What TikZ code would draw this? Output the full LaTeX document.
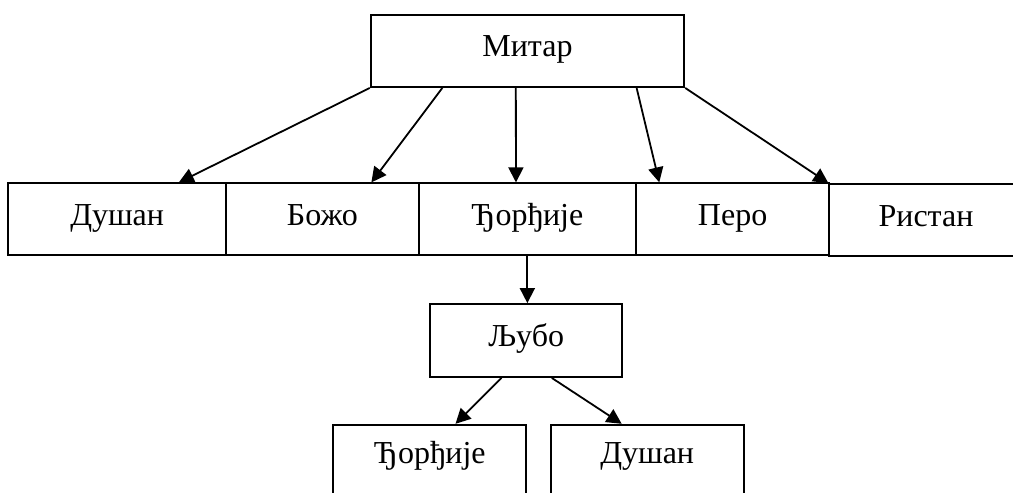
\documentclass[tikz,border=0pt]{standalone}
\usepackage{fontspec}
\setmainfont{Liberation Serif}
\usetikzlibrary{arrows.meta,calc}
\begin{document}
\begin{tikzpicture}[x=1pt,y=-1pt,
  box/.style={draw,line width=1.8pt,rectangle,inner sep=0pt,text height=22pt,text depth=10pt,font=\fontsize{32}{38}\selectfont},
  arr/.style={line width=1.8pt,-{Triangle[length=15pt,width=15pt]}}]
\useasboundingbox (0,0) rectangle (1013,493);
\node[box,minimum width=313.6pt,minimum height=72.3pt] (mitar) at (527.5,50.9) {Митар};
\node[box,minimum width=217.7pt,minimum height=71.7pt] (dushan) at (117.15,219.15) {Душан};
\node[box,minimum width=192.7pt,minimum height=71.7pt] (bozho) at (322.35,219.15) {Божо};
\node[box,minimum width=217.3pt,minimum height=71.7pt] (djordje) at (527.35,219.15) {Ђорђије};
\node[box,minimum width=193.3pt,minimum height=71.7pt] (pero) at (732.65,219.15) {Перо};
\node[box,minimum width=193.4pt,minimum height=72pt] (ristan) at (926,220) {Ристан};
\node[box,minimum width=192.3pt,minimum height=73pt] (ljubo) at (526.15,340.5) {Љубо};
\node[box,text depth=25.4pt,minimum width=193pt,minimum height=80pt] (djordje2) at (429.8,464.7) {Ђорђије};
\node[box,text depth=25.4pt,minimum width=193pt,minimum height=80pt] (dushan2) at (647.2,464.7) {Душан};
\draw[arr] (mitar.south west) -- ($(dushan.north west)!0.781!(dushan.north east)$);
\draw[arr] ($(mitar.south west)!0.23!(mitar.south east)$) -- ($(bozho.north west)!0.752!(bozho.north east)$);
\draw[arr] ($(mitar.south west)!0.463!(mitar.south east)$) -- ($(djordje.north west)!0.448!(djordje.north east)$);
\draw[arr] ($(mitar.south west)!0.846!(mitar.south east)$) -- ($(pero.north west)!0.124!(pero.north east)$);
\draw[arr] (mitar.south east) -- (ristan.north west);
\draw[arr] (djordje.south) -- (djordje.south |- ljubo.north);
\draw[arr] ($(ljubo.south west)!0.373!(ljubo.south east)$) -- ($(djordje2.north west)!0.632!(djordje2.north east)$);
\draw[arr] ($(ljubo.south west)!0.632!(ljubo.south east)$) -- ($(dushan2.north west)!0.369!(dushan2.north east)$);
\end{tikzpicture}
\end{document}
